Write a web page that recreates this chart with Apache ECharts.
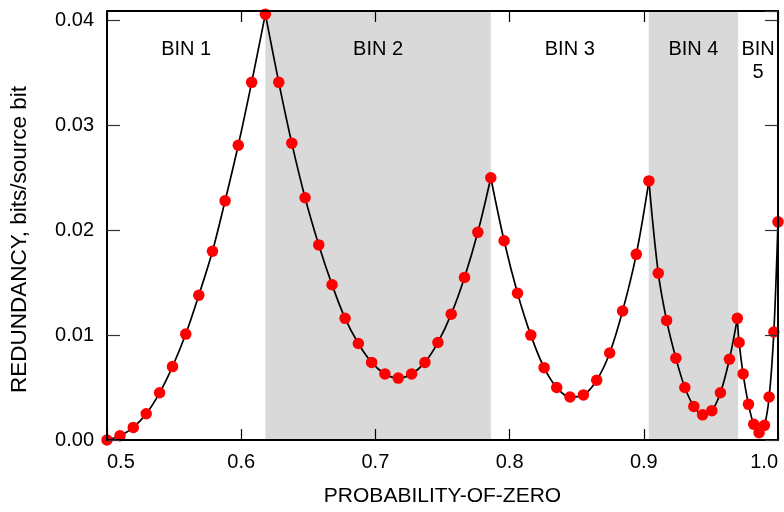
<!DOCTYPE html>
<html>
<head>
<meta charset="utf-8">
<script src="https://cdn.jsdelivr.net/npm/echarts@6/dist/echarts.min.js"></script>
<style>html,body{margin:0;padding:0;background:#fff}#c{width:784px;height:512px}</style>
</head>
<body>
<div id="c"></div>
<script>
// ---- data ----
const bin1X = [0.5000, 0.5097, 0.5196, 0.5292, 0.5392, 0.5488, 0.5587, 0.5684, 0.5786, 0.5880, 0.5978, 0.6078, 0.6180];
const bin1Y = [0.0000, 0.0004, 0.0012, 0.0025, 0.0045, 0.0070, 0.0101, 0.0138, 0.0180, 0.0228, 0.0281, 0.0341, 0.0406];
const bin2X = [0.6180, 0.6280, 0.6377, 0.6476, 0.6578, 0.6677, 0.6774, 0.6873, 0.6972, 0.7071, 0.7170, 0.7270, 0.7369, 0.7466, 0.7565, 0.7664, 0.7763, 0.7860];
const bin2Y = [0.0406, 0.0341, 0.0283, 0.0231, 0.0186, 0.0148, 0.0116, 0.0092, 0.0074, 0.0063, 0.0059, 0.0063, 0.0074, 0.0093, 0.0120, 0.0155, 0.0198, 0.0250];
const bin3X = [0.7860, 0.7959, 0.8059, 0.8158, 0.8257, 0.8351, 0.8450, 0.8550, 0.8649, 0.8746, 0.8842, 0.8944, 0.9038];
const bin3Y = [0.0250, 0.0190, 0.0140, 0.0100, 0.0069, 0.0050, 0.0041, 0.0043, 0.0057, 0.0083, 0.0123, 0.0177, 0.0247];
const bin4X = [0.9038, 0.9108, 0.9170, 0.9239, 0.9306, 0.9373, 0.9438, 0.9507, 0.9571, 0.9638, 0.9697];
const bin4Y = [0.0247, 0.0159, 0.0114, 0.0078, 0.0050, 0.0032, 0.0024, 0.0028, 0.0045, 0.0077, 0.0116];
const bin5X = [0.9697, 0.9710, 0.9740, 0.9780, 0.9819, 0.9859, 0.9899, 0.9934, 0.9969, 1.0000];
const bin5Y = [0.0116, 0.0093, 0.0063, 0.0034, 0.0015, 0.0007, 0.0014, 0.0041, 0.0103, 0.0208];

const binLabels = ['BIN 1', 'BIN 2', 'BIN 3', 'BIN 4', 'BIN\n5'];
const binEdges = [0.5, 0.618, 0.786, 0.9037, 0.9703, 1.0];
const binShaded = [false, true, false, true, false];

const xTitle = 'PROBABILITY-OF-ZERO';
const yTitle = 'REDUNDANCY, bits/source bit';

// ---- build ----
const FONT = 'Liberation Sans, Arial, sans-serif';
const binsX = [bin1X, bin2X, bin3X, bin4X, bin5X];
const binsY = [bin1Y, bin2Y, bin3Y, bin4Y, bin5Y];
const zip = (xs, ys) => xs.map((x, i) => [x, ys[i]]);

const dots = [];
binsX.forEach((xs, b) => {
  xs.forEach((x, i) => {
    if (b > 0 && i === 0) return; // shared peak point
    dots.push([x, binsY[b][i]]);
  });
});

const areas = binLabels.map((lab, i) => [
  { xAxis: binEdges[i], name: lab,
    itemStyle: { color: binShaded[i] ? '#d9d9d9' : 'rgba(0,0,0,0)' } },
  { xAxis: binEdges[i + 1] }
]);

const lineSeries = binsX.map((xs, b) => ({
  type: 'line',
  data: zip(xs, binsY[b]),
  smooth: 0.35,
  showSymbol: false,
  symbol: 'none',
  lineStyle: { color: '#000', width: 1.7 },
  z: 3,
  silent: true
}));
lineSeries[0].markArea = {
  silent: true,
  label: {
    show: true, position: 'insideTop', distance: 27,
    color: '#000', fontSize: 20, fontFamily: FONT, lineHeight: 23, align: 'center'
  },
  data: areas
};

const axisCommon = {
  z: 10,
  axisLine: { show: true, onZero: false, lineStyle: { color: '#000', width: 2 } },
  splitLine: { show: false },
};

const chart = echarts.init(document.getElementById('c'), null, { renderer: 'canvas' });
chart.setOption({
  animation: false,
  backgroundColor: '#fff',
  grid: { left: 106, right: 6, top: 11, bottom: 69.5 },
  xAxis: [
    Object.assign({}, axisCommon, {
      type: 'value', min: 0.5, max: 1.0, interval: 0.1, position: 'bottom',
      axisTick: { show: true, inside: true, length: 11, lineStyle: { color: '#000', width: 1.2 } },
      axisLabel: { fontSize: 20, fontFamily: FONT, color: '#000', margin: 12,
        alignMinLabel: 'left', alignMaxLabel: 'right',
        formatter: v => v.toFixed(1) },
      name: xTitle, nameLocation: 'middle', nameGap: 46,
      nameTextStyle: { fontSize: 21, fontFamily: FONT, color: '#000' }
    }),
    Object.assign({}, axisCommon, {
      type: 'value', min: 0.5, max: 1.0, interval: 0.1, position: 'top',
      axisTick: { show: true, inside: true, length: 11, lineStyle: { color: '#000', width: 1.2 } },
      axisLabel: { show: false }
    })
  ],
  yAxis: [
    Object.assign({}, axisCommon, {
      type: 'value', min: 0, max: 0.0409, interval: 0.01, position: 'left',
      axisTick: { show: true, inside: true, length: 13, lineStyle: { color: '#333', width: 1.2 } },
      axisLabel: { fontSize: 20, fontFamily: FONT, color: '#000', margin: 13, showMaxLabel: false,
        formatter: v => v.toFixed(2) },
      name: yTitle, nameLocation: 'middle', nameGap: 76, nameRotate: 90,
      nameTextStyle: { fontSize: 22.5, fontFamily: FONT, color: '#000', padding: [0, 28, 0, 0] }
    }),
    Object.assign({}, axisCommon, {
      type: 'value', min: 0, max: 0.0409, interval: 0.01, position: 'right',
      axisTick: { show: true, inside: true, length: 13, lineStyle: { color: '#333', width: 1.2 } },
      axisLabel: { show: false }
    })
  ],
  series: lineSeries.concat([{
    type: 'scatter',
    data: dots,
    symbol: 'circle',
    symbolSize: 11.5,
    itemStyle: { color: '#ff0000', opacity: 1 },
    z: 4,
    silent: true
  }])
});
</script>
</body>
</html>
